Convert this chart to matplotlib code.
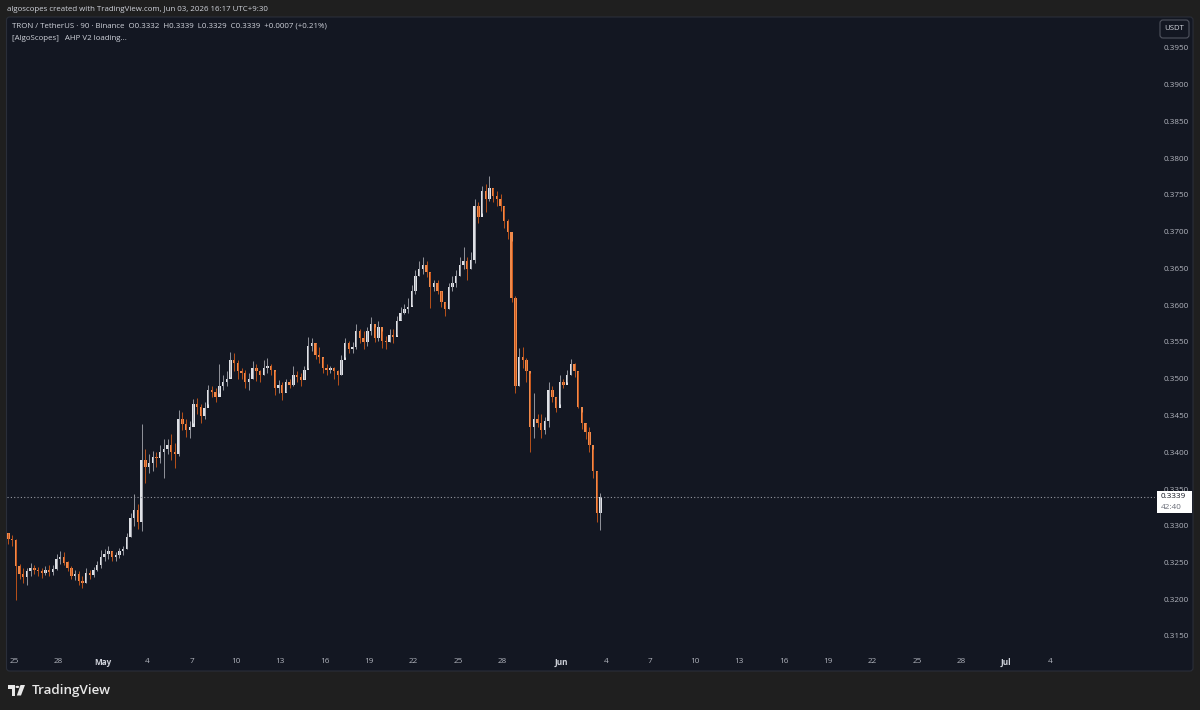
import matplotlib
matplotlib.use("Agg")
import matplotlib.pyplot as plt
import matplotlib.dates as mdates
from matplotlib.patches import FancyBboxPatch, Rectangle, Circle, Polygon
import numpy as np
import pandas as pd


# TRX/USDT, 6h candles from Apr 24 12:00 (open of each = previous close)
FIRST_OPEN = 0.3290
CLOSES = [
    0.3282, 0.3280, 0.3245, 0.3235, 0.3230, 0.3238, 0.3243, 0.3240, 0.3238, 0.3236,
    0.3240, 0.3237, 0.3241, 0.3255, 0.3258, 0.3250, 0.3243, 0.3232, 0.3235, 0.3225,
    0.3222, 0.3236, 0.3233, 0.3240, 0.3247, 0.3258, 0.3262, 0.3265, 0.3258, 0.3260,
    0.3265, 0.3268, 0.3285, 0.3310, 0.3322, 0.3305, 0.3390, 0.3380, 0.3385, 0.3393,
    0.3392, 0.3400, 0.3405, 0.3410, 0.3400, 0.3398, 0.3445, 0.3438, 0.3430, 0.3435,
    0.3465, 0.3462, 0.3450, 0.3460, 0.3485, 0.3482, 0.3475, 0.3490, 0.3495, 0.3500,
    0.3525, 0.3522, 0.3510, 0.3508, 0.3495, 0.3500, 0.3515, 0.3510, 0.3505, 0.3515,
    0.3517, 0.3512, 0.3488, 0.3492, 0.3480, 0.3495, 0.3492, 0.3505, 0.3502, 0.3498,
    0.3512, 0.3545, 0.3548, 0.3532, 0.3530, 0.3515, 0.3512, 0.3515, 0.3510, 0.3505,
    0.3525, 0.3548, 0.3540, 0.3543, 0.3565, 0.3555, 0.3550, 0.3565, 0.3575, 0.3555,
    0.3570, 0.3552, 0.3550, 0.3560, 0.3557, 0.3578, 0.3590, 0.3595, 0.3598, 0.3620,
    0.3640, 0.3650, 0.3655, 0.3645, 0.3625, 0.3630, 0.3620, 0.3605, 0.3595, 0.3625,
    0.3630, 0.3640, 0.3655, 0.3660, 0.3650, 0.3662, 0.3735, 0.3720, 0.3755, 0.3745,
    0.3760, 0.3748, 0.3745, 0.3735, 0.3715, 0.3700, 0.3610, 0.3490, 0.3530, 0.3525,
    0.3510, 0.3435, 0.3445, 0.3440, 0.3430, 0.3442, 0.3485, 0.3475, 0.3460, 0.3495,
    0.3492, 0.3505, 0.3520, 0.3510, 0.3462, 0.3440, 0.3428, 0.3410, 0.3375, 0.3318,
    0.3339,
]
HIGHS = [
    0.3290, 0.3287, 0.3282, 0.3248, 0.3242, 0.3243, 0.3249, 0.3247, 0.3244, 0.3242,
    0.3245, 0.3246, 0.3247, 0.3262, 0.3266, 0.3264, 0.3252, 0.3245, 0.3240, 0.3238,
    0.3232, 0.3242, 0.3240, 0.3244, 0.3252, 0.3267, 0.3268, 0.3272, 0.3266, 0.3264,
    0.3270, 0.3273, 0.3290, 0.3318, 0.3343, 0.3330, 0.3438, 0.3405, 0.3398, 0.3402,
    0.3400, 0.3410, 0.3418, 0.3418, 0.3425, 0.3412, 0.3457, 0.3455, 0.3445, 0.3442,
    0.3472, 0.3474, 0.3465, 0.3468, 0.3492, 0.3490, 0.3487, 0.3520, 0.3505, 0.3510,
    0.3536, 0.3535, 0.3525, 0.3515, 0.3512, 0.3508, 0.3524, 0.3520, 0.3512, 0.3525,
    0.3528, 0.3520, 0.3510, 0.3498, 0.3495, 0.3500, 0.3500, 0.3518, 0.3510, 0.3508,
    0.3518, 0.3557, 0.3555, 0.3548, 0.3543, 0.3528, 0.3520, 0.3518, 0.3516, 0.3512,
    0.3532, 0.3555, 0.3552, 0.3550, 0.3575, 0.3568, 0.3565, 0.3570, 0.3584, 0.3570,
    0.3578, 0.3565, 0.3558, 0.3568, 0.3568, 0.3585, 0.3598, 0.3602, 0.3610, 0.3627,
    0.3648, 0.3660, 0.3666, 0.3660, 0.3645, 0.3635, 0.3635, 0.3620, 0.3605, 0.3630,
    0.3640, 0.3648, 0.3666, 0.3679, 0.3665, 0.3672, 0.3745, 0.3740, 0.3762, 0.3765,
    0.3776, 0.3760, 0.3755, 0.3752, 0.3735, 0.3718, 0.3688, 0.3612, 0.3542, 0.3543,
    0.3528, 0.3508, 0.3481, 0.3452, 0.3452, 0.3448, 0.3495, 0.3490, 0.3475, 0.3505,
    0.3500, 0.3512, 0.3527, 0.3522, 0.3510, 0.3455, 0.3440, 0.3435, 0.3405, 0.3375,
    0.3345,
]
LOWS = [
    0.3275, 0.3273, 0.3199, 0.3228, 0.3222, 0.3220, 0.3232, 0.3235, 0.3232, 0.3229,
    0.3233, 0.3232, 0.3233, 0.3240, 0.3248, 0.3247, 0.3238, 0.3228, 0.3226, 0.3220,
    0.3215, 0.3222, 0.3228, 0.3230, 0.3238, 0.3242, 0.3252, 0.3255, 0.3252, 0.3252,
    0.3256, 0.3260, 0.3268, 0.3285, 0.3300, 0.3295, 0.3293, 0.3358, 0.3372, 0.3375,
    0.3380, 0.3385, 0.3365, 0.3398, 0.3390, 0.3378, 0.3395, 0.3430, 0.3421, 0.3420,
    0.3440, 0.3452, 0.3440, 0.3445, 0.3465, 0.3475, 0.3468, 0.3480, 0.3485, 0.3490,
    0.3502, 0.3510, 0.3500, 0.3500, 0.3488, 0.3485, 0.3500, 0.3497, 0.3495, 0.3505,
    0.3508, 0.3505, 0.3478, 0.3480, 0.3471, 0.3482, 0.3487, 0.3490, 0.3495, 0.3490,
    0.3500, 0.3515, 0.3538, 0.3527, 0.3522, 0.3508, 0.3505, 0.3508, 0.3500, 0.3491,
    0.3505, 0.3530, 0.3535, 0.3535, 0.3540, 0.3548, 0.3540, 0.3545, 0.3560, 0.3550,
    0.3552, 0.3542, 0.3540, 0.3550, 0.3548, 0.3560, 0.3580, 0.3588, 0.3590, 0.3600,
    0.3615, 0.3640, 0.3642, 0.3638, 0.3596, 0.3620, 0.3615, 0.3598, 0.3585, 0.3595,
    0.3620, 0.3625, 0.3640, 0.3650, 0.3635, 0.3650, 0.3658, 0.3712, 0.3725, 0.3727,
    0.3742, 0.3740, 0.3735, 0.3728, 0.3705, 0.3690, 0.3605, 0.3481, 0.3490, 0.3515,
    0.3495, 0.3400, 0.3420, 0.3435, 0.3420, 0.3425, 0.3435, 0.3468, 0.3455, 0.3465,
    0.3488, 0.3495, 0.3505, 0.3502, 0.3460, 0.3432, 0.3418, 0.3400, 0.3365, 0.3305,
    0.3294,
]

START = "2026-04-24 12:00"
LAST_PRICE = 0.3339
COUNTDOWN = "42:40"

PRICE_TICKS = np.arange(0.3150, 0.39501, 0.0050)
DATE_TICKS = ["2026-04-25", "2026-04-28", "2026-05-01", "2026-05-04", "2026-05-07",
              "2026-05-10", "2026-05-13", "2026-05-16", "2026-05-19", "2026-05-22",
              "2026-05-25", "2026-05-28", "2026-06-01", "2026-06-04", "2026-06-07",
              "2026-06-10", "2026-06-13", "2026-06-16", "2026-06-19", "2026-06-22",
              "2026-06-25", "2026-06-28", "2026-07-01", "2026-07-04"]
DATE_LABELS = ["25", "28", "May", "4", "7", "10", "13", "16", "19", "22", "25", "28",
               "Jun", "4", "7", "10", "13", "16", "19", "22", "25", "28", "Jul", "4"]

HEADER = "algoscopes created with TradingView.com, Jun 03, 2026 16:17 UTC+9:30"
LEGEND_1 = "TRON / TetherUS · 90 · Binance  O0.3332  H0.3339  L0.3329  C0.3339  +0.0007 (+0.21%)"
LEGEND_2 = "[AlgoScopes]   AHP V2 loading..."

OUTER_BG = "#1f1f1f"
PANEL_BG = "#131722"
TEXT_COL = "#b2b5be"
UP_BODY = "#dfe1e6"
UP_WICK = "#9a9ca4"
DOWN_BODY = "#f08a4b"
DOWN_WICK = "#c4551a"

plt.rcParams["font.family"] = ["Open Sans", "DejaVu Sans"]

W, H = 1200, 710
fig = plt.figure(figsize=(W / 100, H / 100), dpi=100, facecolor=OUTER_BG)

# chart panel (behind the axes)
panel = FancyBboxPatch((6.5 / 100, (H - 671) / 100), (1193 - 6.5) / 100, (671 - 17) / 100,
                       boxstyle="round,pad=0,rounding_size=0.03",
                       transform=fig.dpi_scale_trans, fc=PANEL_BG, ec="#2a2e39", lw=0.8,
                       zorder=-10)
fig.patches.append(panel)

ax = fig.add_axes([7 / W, (H - 650) / H, (1155 - 7) / W, (650 - 17) / H])
ax.set_zorder(1)
ax.set_facecolor("none")
for s in ax.spines.values():
    s.set_visible(False)

times = pd.date_range(START, periods=len(CLOSES), freq="6h")
x = mdates.date2num(times.to_pydatetime()) + 0.125
closes = np.array(CLOSES)
opens = np.concatenate([[FIRST_OPEN], closes[:-1]])
highs = np.array(HIGHS)
lows = np.array(LOWS)
up = closes >= opens

ax.vlines(x[up], lows[up], highs[up], color=UP_WICK, lw=0.65)
ax.vlines(x[~up], lows[~up], highs[~up], color=DOWN_WICK, lw=0.65)
body_lo = np.minimum(opens, closes)
body_h = np.maximum(np.abs(closes - opens), 0.00008)
ax.bar(x[up], body_h[up], bottom=body_lo[up], width=0.16, color=UP_BODY, lw=0)
ax.bar(x[~up], body_h[~up], bottom=body_lo[~up], width=0.16, color=DOWN_BODY, lw=0)

# last price dotted line
ax.axhline(LAST_PRICE, color="#9598a1", lw=0.8, ls=(0, (1, 2)))

x0 = mdates.date2num(pd.Timestamp("2026-04-25").to_pydatetime())
ax.set_xlim(x0 - 7 / 14.8, x0 + (1155 - 14) / 14.8)
ax.set_ylim(0.3950 - 602 / 7350, 0.3950 + 31 / 7350)

ax.yaxis.tick_right()
ax.set_yticks(PRICE_TICKS)
ax.set_yticklabels([f"{p:.4f}" for p in PRICE_TICKS])
ax.tick_params(axis="y", length=0, pad=6, labelsize=5.9, labelcolor=TEXT_COL)

tick_x = mdates.date2num(pd.to_datetime(DATE_TICKS).to_pydatetime())
ax.set_xticks(tick_x)
ax.set_xticklabels(DATE_LABELS)
ax.tick_params(axis="x", length=0, pad=6, labelsize=5.9, labelcolor=TEXT_COL)
for lab in ax.get_xticklabels():
    if lab.get_text() in ("May", "Jun", "Jul"):
        lab.set_fontweight("bold")
        lab.set_color("#d1d4dc")

# last price box on the price scale
y_disp = ax.transData.transform((x0, LAST_PRICE))[1]
y_fig = y_disp / H
box = Rectangle((1157 / W, y_fig - 16 / H), 35 / W, 22 / H, transform=fig.transFigure,
                fc="white", ec="none", zorder=2)
fig.patches.append(box)
fig.text(1161 / W, y_fig + 0.5 / H, f"{LAST_PRICE:.4f}", fontsize=5.9, color="#131722",
         ha="left", va="center", zorder=3)
fig.text(1161 / W, y_fig - 10 / H, COUNTDOWN, fontsize=5.9, color="#6a6d78",
         ha="left", va="center", zorder=3)

# USDT badge
badge = FancyBboxPatch((1160 / 100, (H - 38) / 100), 29 / 100, 18 / 100,
                       boxstyle="round,pad=0,rounding_size=0.03",
                       transform=fig.dpi_scale_trans, fc="#131722", ec="#50535e", lw=0.8,
                       zorder=2)
fig.patches.append(badge)
fig.text(1174.5 / W, 1 - 29 / H, "USDT", fontsize=5.6, color="#d1d4dc", ha="center",
         va="center", zorder=3)

# header and legend
fig.text(7 / W, 1 - 9.5 / H, HEADER, fontsize=5.65, color="#d1d4dc", ha="left", va="center")
fig.text(12 / W, 1 - 26 / H, LEGEND_1, fontsize=5.7, color="#d1d4dc", ha="left", va="center",
         zorder=3)
fig.text(12 / W, 1 - 38.5 / H, LEGEND_2, fontsize=5.7, color="#d1d4dc", ha="left", va="center",
         zorder=3)


# TradingView logo
def px(xp, yp):
    return (xp / W, 1 - yp / H)


logo_col = "#e8e8e8"
fig.patches.append(Polygon([px(7.5, 685), px(15, 685), px(15, 695.5), px(11.5, 695.5),
                            px(11.5, 688.5), px(7.5, 688.5)], closed=True,
                           transform=fig.transFigure, fc=logo_col, ec="none"))
fig.patches.append(Circle(px(17.4, 686.9), 1.9 / W, transform=fig.transFigure,
                          fc=logo_col, ec="none"))
fig.patches.append(Polygon([px(20.5, 685), px(25, 685), px(21, 695.5), px(16.8, 695.5)],
                           closed=True, transform=fig.transFigure, fc=logo_col, ec="none"))
fig.text(32 / W, 1 - 690.5 / H, "TradingView", fontsize=9.6, fontweight="semibold",
         color=logo_col, ha="left", va="center")

fig.savefig("out.png", dpi=100, facecolor=OUTER_BG)
